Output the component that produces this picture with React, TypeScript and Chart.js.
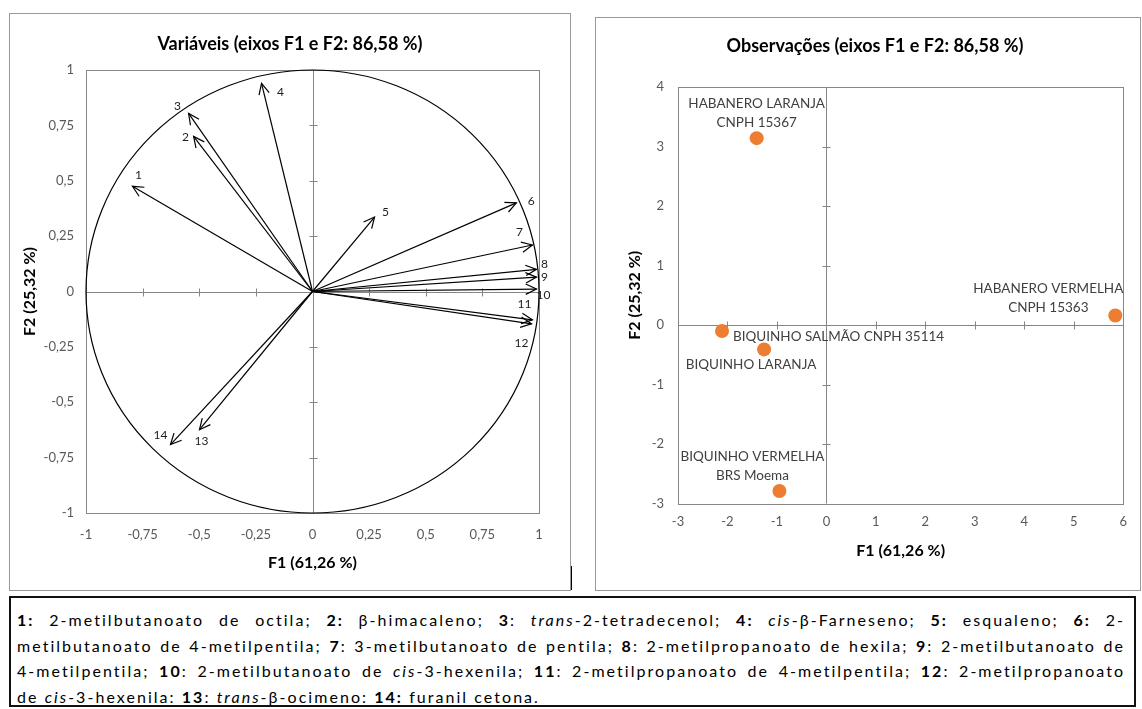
import React, { useEffect, useLayoutEffect, useRef, useState } from 'react';
import { Chart, registerables } from 'chart.js';

Chart.register(...registerables);

const FONT = 'Lato, "Open Sans", "Liberation Sans", sans-serif';

// ---------- Left chart: variables (correlation circle) ----------
const variableIds = ['1', '2', '3', '4', '5', '6', '7', '8', '9', '10', '11', '12', '13', '14'];
const variableF1 = [-0.795, -0.525, -0.547, -0.225, 0.274, 0.9, 0.971, 0.989, 0.989, 0.989, 0.971, 0.967, -0.499, -0.627];
const variableF2 = [0.475, 0.7, 0.804, 0.94, 0.336, 0.4, 0.21, 0.1, 0.065, 0.011, -0.128, -0.146, -0.624, -0.691];
const variableLabelOffsets: [number, number][] = [
  [6, -11], [-8, 1], [-11, -7], [19, 9], [11, -5], [15, -2], [-13, -13],
  [8, -5], [8, 0], [7, 6], [-8, -16], [-10, 19], [2, 11], [-10, -9],
];
const variableTicks = [-1, -0.75, -0.5, -0.25, 0, 0.25, 0.5, 0.75, 1];

// ---------- Right chart: observations ----------
const observationNames: string[][] = [
  ['HABANERO LARANJA', 'CNPH 15367'],
  ['HABANERO VERMELHA', 'CNPH 15363'],
  ['BIQUINHO SALMÃO CNPH 35114'],
  ['BIQUINHO LARANJA'],
  ['BIQUINHO VERMELHA', 'BRS Moema'],
];
const observationF1 = [-1.41, 5.84, -2.11, -1.26, -0.95];
const observationF2 = [3.14, 0.16, -0.1, -0.41, -2.79];
const observationLabelPlacement: { dx: number; dy: number; align: CanvasTextAlign }[] = [
  { dx: 0, dy: -35, align: 'center' },
  { dx: -67, dy: -27, align: 'center' },
  { dx: 11, dy: 6, align: 'left' },
  { dx: -13, dy: 15, align: 'center' },
  { dx: -27, dy: -34, align: 'center' },
];
const observationXTicks = [-3, -2, -1, 0, 1, 2, 3, 4, 5, 6];
const observationYTicks = [-3, -2, -1, 0, 1, 2, 3, 4];

const titleVariables = 'Variáveis (eixos F1 e F2: 86,58 %)';
const titleObservations = 'Observações (eixos F1 e F2: 86,58 %)';
const axisTitleF1 = 'F1 (61,26 %)';
const axisTitleF2 = 'F2 (25,32 %)';

type Seg = { t: string; b?: boolean; i?: boolean };
const captionLines: Seg[][] = [
  [
    { t: '1:', b: true }, { t: ' 2-metilbutanoato de octila; ' }, { t: '2:', b: true }, { t: ' β-himacaleno; ' },
    { t: '3', b: true }, { t: ': ' }, { t: 'trans', i: true }, { t: '-2-tetradecenol; ' }, { t: '4:', b: true },
    { t: ' ' }, { t: 'cis', i: true }, { t: '-β-Farneseno; ' }, { t: '5:', b: true }, { t: ' esqualeno; ' },
    { t: '6:', b: true }, { t: ' 2-' },
  ],
  [
    { t: 'metilbutanoato de 4-metilpentila; ' }, { t: '7', b: true }, { t: ': 3-metilbutanoato de pentila; ' },
    { t: '8', b: true }, { t: ': 2-metilpropanoato de hexila; ' }, { t: '9', b: true }, { t: ': 2-metilbutanoato de' },
  ],
  [
    { t: '4-metilpentila; ' }, { t: '10', b: true }, { t: ': 2-metilbutanoato de ' }, { t: 'cis', i: true },
    { t: '-3-hexenila; ' }, { t: '11', b: true }, { t: ': 2-metilpropanoato de 4-metilpentila; ' },
    { t: '12', b: true }, { t: ': 2-metilpropanoato' },
  ],
  [
    { t: 'de ' }, { t: 'cis', i: true }, { t: '-3-hexenila: ' }, { t: '13', b: true }, { t: ': ' },
    { t: 'trans', i: true }, { t: '-β-ocimeno: ' }, { t: '14:', b: true }, { t: ' furanil cetona.' },
  ],
];

const fmt = (v: number) => String(v).replace('.', ',');
const AXIS_GRAY = '#868686';
const TICK_COLOR = '#595959';

function framePlugin(xTicks: number[], yTicks: number[], title: string, tx: number, ty: number) {
  return {
    id: 'frame',
    beforeDatasetsDraw(chart: any) {
      const { ctx, chartArea: a, scales } = chart;
      const x = scales.x;
      const y = scales.y;
      ctx.save();
      ctx.strokeStyle = AXIS_GRAY;
      ctx.lineWidth = 1;
      ctx.strokeRect(Math.round(a.left) + 0.5, Math.round(a.top) + 0.5, Math.round(a.right - a.left), Math.round(a.bottom - a.top));
      const x0 = Math.round(x.getPixelForValue(0)) + 0.5;
      const y0 = Math.round(y.getPixelForValue(0)) + 0.5;
      ctx.beginPath();
      ctx.moveTo(a.left, y0);
      ctx.lineTo(a.right, y0);
      ctx.moveTo(x0, a.top);
      ctx.lineTo(x0, a.bottom);
      xTicks.forEach((v) => {
        const px = Math.round(x.getPixelForValue(v)) + 0.5;
        ctx.moveTo(px, y0 - 4);
        ctx.lineTo(px, y0 + 4);
      });
      yTicks.forEach((v) => {
        const py = Math.round(y.getPixelForValue(v)) + 0.5;
        ctx.moveTo(x0 - 4, py);
        ctx.lineTo(x0 + 4, py);
      });
      ctx.stroke();
      ctx.fillStyle = '#000';
      ctx.font = `bold 18px ${FONT}`;
      ctx.textAlign = 'center';
      ctx.textBaseline = 'middle';
      ctx.fillText(title, tx, ty);
      ctx.restore();
    },
  };
}

const variablesPlugin = {
  id: 'variablesDecor',
  beforeDatasetsDraw(chart: any) {
    const { ctx, scales } = chart;
    const x = scales.x;
    const y = scales.y;
    const x0 = x.getPixelForValue(0);
    const y0 = y.getPixelForValue(0);
    ctx.save();
    ctx.strokeStyle = '#000';
    ctx.lineWidth = 1.2;
    ctx.beginPath();
    ctx.ellipse(x0, y0, x.getPixelForValue(1) - x0, y0 - y.getPixelForValue(1), 0, 0, Math.PI * 2);
    ctx.stroke();
    ctx.restore();
  },
  afterDatasetsDraw(chart: any) {
    const { ctx } = chart;
    ctx.save();
    ctx.strokeStyle = '#000';
    ctx.lineWidth = 1.2;
    ctx.fillStyle = '#1e1e1e';
    ctx.font = `12px ${FONT}`;
    ctx.textAlign = 'center';
    ctx.textBaseline = 'middle';
    chart.data.datasets.forEach((_ds: any, i: number) => {
      const meta = chart.getDatasetMeta(i);
      const o = meta.data[0];
      const t = meta.data[1];
      const ang = Math.atan2(t.y - o.y, t.x - o.x);
      const L = 12;
      const spread = 0.45;
      ctx.beginPath();
      ctx.moveTo(t.x - L * Math.cos(ang - spread), t.y - L * Math.sin(ang - spread));
      ctx.lineTo(t.x, t.y);
      ctx.lineTo(t.x - L * Math.cos(ang + spread), t.y - L * Math.sin(ang + spread));
      ctx.stroke();
      const [dx, dy] = variableLabelOffsets[i];
      ctx.fillText(variableIds[i], t.x + dx, t.y + dy);
    });
    ctx.restore();
  },
};

const observationsPlugin = {
  id: 'observationsDecor',
  afterDatasetsDraw(chart: any) {
    const { ctx } = chart;
    const meta = chart.getDatasetMeta(0);
    ctx.save();
    ctx.fillStyle = '#404040';
    ctx.font = `13.5px ${FONT}`;
    ctx.textBaseline = 'middle';
    observationNames.forEach((lines, i) => {
      const p = meta.data[i];
      const pl = observationLabelPlacement[i];
      ctx.textAlign = pl.align;
      lines.forEach((line, k) => {
        ctx.fillText(line, p.x + pl.dx, p.y + pl.dy + k * 19);
      });
    });
    ctx.restore();
  },
};

function scaleOptions(axis: 'x' | 'y', ticksArr: number[], min: number, max: number, size: number, tickPad: number, title: string, titlePad: any) {
  return {
    type: 'linear',
    position: axis === 'x' ? 'bottom' : 'left',
    min,
    max,
    grid: { display: false, drawTicks: false, tickLength: 0 },
    border: { display: false },
    afterBuildTicks: (scale: any) => {
      scale.ticks = ticksArr.map((v) => ({ value: v }));
    },
    afterFit: (scale: any) => {
      if (axis === 'x') scale.height = size;
      else scale.width = size;
    },
    ticks: {
      autoSkip: false,
      maxRotation: 0,
      padding: tickPad,
      color: TICK_COLOR,
      font: { family: FONT, size: 13 },
      callback: (v: any) => fmt(Number(v)),
    },
    title: {
      display: true,
      text: title,
      color: '#000',
      font: { family: FONT, size: 16, weight: 'bold' },
      padding: titlePad,
    },
  };
}

function VariablesChart() {
  const ref = useRef<HTMLCanvasElement>(null);
  useEffect(() => {
    const datasets = variableF1.map((fx, i) => ({
      label: variableIds[i],
      data: [{ x: 0, y: 0 }, { x: fx, y: variableF2[i] }],
      showLine: true,
      borderColor: '#000',
      borderWidth: 1.2,
      pointRadius: 0,
      fill: false,
    }));
    const chart = new Chart(ref.current as HTMLCanvasElement, {
      type: 'scatter',
      data: { datasets },
      options: {
        responsive: false,
        animation: false,
        devicePixelRatio: 1,
        layout: { padding: { left: 0, top: 58, right: 31, bottom: 0 } },
        plugins: { legend: { display: false }, tooltip: { enabled: false }, title: { display: false } },
        scales: {
          x: scaleOptions('x', variableTicks, -1, 1, 77, 14, axisTitleF1, { top: 0, bottom: 18 }),
          y: scaleOptions('y', variableTicks, -1, 1, 76, 12, axisTitleF2, { top: 10, bottom: 0 }),
        },
      } as any,
      plugins: [framePlugin(variableTicks, variableTicks, titleVariables, 280, 32), variablesPlugin],
    });
    return () => chart.destroy();
  }, []);
  return <canvas ref={ref} width={560} height={578} style={{ position: 'absolute', left: 10, top: 12, width: 560, height: 578 }} />;
}

function ObservationsChart() {
  const ref = useRef<HTMLCanvasElement>(null);
  useEffect(() => {
    const chart = new Chart(ref.current as HTMLCanvasElement, {
      type: 'scatter',
      data: {
        datasets: [
          {
            label: 'Observações',
            data: observationF1.map((fx, i) => ({ x: fx, y: observationF2[i] })),
            backgroundColor: '#ED7D31',
            borderWidth: 0,
            pointRadius: 7,
            clip: false,
          },
        ],
      },
      options: {
        responsive: false,
        animation: false,
        devicePixelRatio: 1,
        layout: { padding: { left: 0, top: 70, right: 12.5, bottom: 0 } },
        plugins: { legend: { display: false }, tooltip: { enabled: false }, title: { display: false } },
        scales: {
          x: scaleOptions('x', observationXTicks, -3, 6, 86.5, 11, axisTitleF1, { top: 0, bottom: 30 }),
          y: scaleOptions('y', observationYTicks, -3, 4, 82, 14, axisTitleF2, { top: 29, bottom: 0 }),
        },
      } as any,
      plugins: [framePlugin(observationXTicks, observationYTicks, titleObservations, 279, 29), observationsPlugin],
    });
    return () => chart.destroy();
  }, []);
  return <canvas ref={ref} width={542} height={573} style={{ position: 'absolute', left: 596, top: 17, width: 542, height: 573 }} />;
}

const CAPTION_AVAIL = 1108;

function Caption() {
  const measureRef = useRef<HTMLDivElement>(null);
  const [spacing, setSpacing] = useState(0);
  useLayoutEffect(() => {
    const host = measureRef.current;
    if (!host) return;
    const spans = Array.from(host.children) as HTMLElement[];
    let best = Infinity;
    spans.forEach((el, i) => {
      if (i === captionLines.length - 1) return;
      const w = el.getBoundingClientRect().width;
      const n = (el.textContent || '').length;
      const ls = (CAPTION_AVAIL * 0.985 - w) / n;
      if (ls < best) best = ls;
    });
    if (isFinite(best)) setSpacing(Math.max(0, best));
  }, []);
  const render = (line: Seg[]) =>
    line.map((s, si) => (s.b ? <b key={si}>{s.t}</b> : s.i ? <i key={si}>{s.t}</i> : <span key={si}>{s.t}</span>));
  const fontStyle = { fontFamily: FONT, fontSize: 16, color: '#000' };
  return (
    <>
      <div ref={measureRef} style={{ position: 'absolute', left: 0, top: 0, visibility: 'hidden', ...fontStyle }}>
        {captionLines.map((line, li) => (
          <span key={li} style={{ whiteSpace: 'nowrap', display: 'block', width: 'max-content' }}>
            {render(line)}
          </span>
        ))}
      </div>
      <div
        style={{
          position: 'absolute',
          left: 9,
          top: 596,
          width: 1127,
          height: 111,
          border: '2px solid #111',
          padding: '9px 9px 0 6px',
          boxSizing: 'border-box',
          lineHeight: '25.5px',
          letterSpacing: spacing,
          ...fontStyle,
        }}
      >
        {captionLines.map((line, li) => (
          <div
            key={li}
            style={{
              textAlign: 'justify',
              textAlignLast: li < captionLines.length - 1 ? 'justify' : 'left',
              whiteSpace: 'nowrap',
            }}
          >
            {render(line)}
          </div>
        ))}
      </div>
    </>
  );
}

export default function App() {
  return (
    <div style={{ position: 'fixed', left: 0, top: 0, width: 1142, height: 709, background: '#fff', overflow: 'hidden' }}>
      <div style={{ position: 'absolute', left: 9, top: 13, width: 560, height: 576, border: '1px solid #9a9a9a' }} />
      <div style={{ position: 'absolute', left: 595, top: 17, width: 544, height: 572, border: '1px solid #9a9a9a' }} />
      <div style={{ position: 'absolute', left: 571, top: 566, width: 1, height: 24, background: '#000' }} />
      <VariablesChart />
      <ObservationsChart />
      <Caption />
    </div>
  );
}
